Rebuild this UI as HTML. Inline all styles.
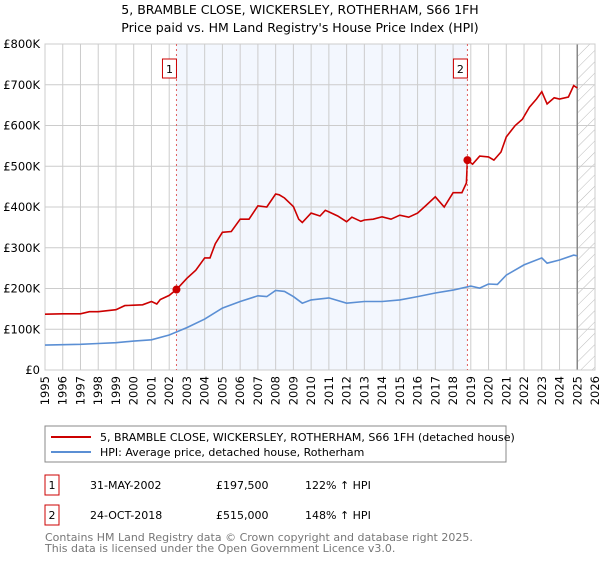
<!DOCTYPE html>
<html><head><meta charset="utf-8"><style>
body{margin:0;background:#fff;font-family:"DejaVu Sans","Liberation Sans",sans-serif;}
svg text{font-family:"DejaVu Sans","Liberation Sans",sans-serif;}
</style></head><body>
<svg id="c" width="600" height="560" viewBox="0 0 600 560">
<defs><pattern id="hatch" width="8" height="8" patternUnits="userSpaceOnUse" patternTransform="rotate(45)"><line x1="0" y1="0" x2="0" y2="8" stroke="#bbb" stroke-width="1"/></pattern></defs>
<text x="300" y="14" text-anchor="middle" font-size="12.5" fill="#000">5, BRAMBLE CLOSE, WICKERSLEY, ROTHERHAM, S66 1FH</text>
<text x="300" y="32" text-anchor="middle" font-size="12.5" fill="#000">Price paid vs. HM Land Registry's House Price Index (HPI)</text>
<g id="grid"></g><g id="marks"></g>
<rect x="45" y="426" width="461" height="36" fill="#fff" stroke="#888"/>
<line x1="51" y1="437" x2="91" y2="437" stroke="#cc0000" stroke-width="2"/>
<text x="100" y="441" font-size="11">5, BRAMBLE CLOSE, WICKERSLEY, ROTHERHAM, S66 1FH (detached house)</text>
<line x1="51" y1="452" x2="91" y2="452" stroke="#5b8fd4" stroke-width="2"/>
<text x="100" y="456" font-size="11">HPI: Average price, detached house, Rotherham</text>
<rect x="45" y="475" width="14" height="20" fill="#fff" stroke="#cc0000"/>
<text x="52" y="489" font-size="11" text-anchor="middle">1</text>
<text x="90" y="489" font-size="11">31-MAY-2002</text>
<text x="216" y="489" font-size="11">£197,500</text>
<text x="305" y="489" font-size="11">122% ↑ HPI</text>
<rect x="45" y="505" width="14" height="20" fill="#fff" stroke="#cc0000"/>
<text x="52" y="519" font-size="11" text-anchor="middle">2</text>
<text x="90" y="519" font-size="11">24-OCT-2018</text>
<text x="216" y="519" font-size="11">£515,000</text>
<text x="305" y="519" font-size="11">148% ↑ HPI</text>
<text x="45" y="541" font-size="11" fill="#777">Contains HM Land Registry data © Crown copyright and database right 2025.</text>
<text x="45" y="552" font-size="11" fill="#777">This data is licensed under the Open Government Licence v3.0.</text>
</svg>
<script>
const yearTicks=[1995,1996,1997,1998,1999,2000,2001,2002,2003,2004,2005,2006,2007,2008,2009,2010,2011,2012,2013,2014,2015,2016,2017,2018,2019,2020,2021,2022,2023,2024,2025,2026];
const priceTicks=[0,100000,200000,300000,400000,500000,600000,700000,800000];
const priceLabels=["£0","£100K","£200K","£300K","£400K","£500K","£600K","£700K","£800K"];
const redYears=[1995,1996,1997,1997.5,1998,1999,1999.5,2000,2000.5,2001,2001.3,2001.5,2002,2002.41,2003,2003.5,2004,2004.3,2004.6,2005,2005.5,2006,2006.5,2007,2007.5,2008,2008.2,2008.5,2009,2009.3,2009.5,2010,2010.5,2010.8,2011,2011.5,2012,2012.3,2012.8,2013,2013.5,2014,2014.5,2015,2015.5,2016,2016.5,2017,2017.5,2018,2018.5,2018.75,2018.81,2019.1,2019.5,2020,2020.3,2020.7,2021,2021.5,2021.9,2022.3,2022.7,2023,2023.3,2023.7,2024,2024.5,2024.8,2025];
const redValues=[137,138,138,143,143,148,158,159,160,168,162,173,183,197.5,225,245,275,275,310,338,340,370,370,403,400,432,430,422,401,370,362,385,378,392,388,378,364,375,365,368,370,376,370,380,375,385,405,425,400,435,435,459,515,505,525,523,515,535,572,600,615,645,665,683,653,668,665,670,698,692];
const blueYears=[1995,1996,1997,1998,1999,2000,2001,2002,2003,2004,2005,2006,2007,2007.5,2008,2008.5,2009,2009.5,2010,2011,2012,2013,2014,2015,2016,2017,2018,2019,2019.5,2020,2020.5,2021,2022,2023,2023.3,2024,2024.8,2025];
const blueValues=[61,62,63,65,67,71,74,86,104,125,152,168,182,180,195,193,180,164,172,177,164,168,168,172,180,189,196,206,201,211,210,233,258,275,262,270,282,280];
const sales=[[2002.41,197.5,"1"],[2018.81,515,"2"]];
const NS="http://www.w3.org/2000/svg";
const X=y=>45+(y-1995)*(550/31);
const Y=v=>370-v/800000*326;
const grid=document.getElementById('grid'),marks=document.getElementById('marks');
function mk(p,tag,a){const e=document.createElementNS(NS,tag);for(const k in a)e.setAttribute(k,a[k]);p.appendChild(e);return e;}
let r=mk(grid,'rect',{x:X(2002.41),y:44,width:X(2018.81)-X(2002.41),height:326,fill:'#eef3fd',opacity:0.7});


r=mk(grid,'rect',{x:X(2025),y:44,width:X(2026)-X(2025),height:326,fill:'url(#hatch)'});


yearTicks.forEach(t=>{mk(grid,'line',{x1:X(t),x2:X(t),y1:44,y2:370,stroke:'#ccc'});
const tx=mk(grid,'text',{x:X(t)+4,y:376,'font-size':11.5,'text-anchor':'end',transform:`rotate(-90 ${X(t)+4} 376)`});tx.textContent=t;

});
priceTicks.forEach((t,i)=>{mk(grid,'line',{x1:45,x2:595,y1:Y(t),y2:Y(t),stroke:'#ccc'});
const tx=mk(grid,'text',{x:40,y:Y(t)+4,'font-size':11.5,'text-anchor':'end'});tx.textContent=priceLabels[i];

});
mk(grid,'line',{x1:X(2025),x2:X(2025),y1:44,y2:370,stroke:'#888','stroke-width':1.5});
mk(grid,'rect',{x:45,y:44,width:550,height:326,fill:'none',stroke:'#ccc'});
function path(ys,vs,c,name){const d=ys.map((y,i)=>(i?'L':'M')+X(y).toFixed(1)+','+Y(vs[i]*1000).toFixed(1)).join('');
const p=mk(marks,'path',{d:d,fill:'none',stroke:c,'stroke-width':1.6});

}
path(blueYears,blueValues,'#5b8fd4','hpi-line');
path(redYears,redValues,'#cc0000','property-price-line');
sales.forEach(s=>{mk(marks,'line',{x1:X(s[0]),x2:X(s[0]),y1:44,y2:370,stroke:'#e06060','stroke-dasharray':'2,3'});
const c=mk(marks,'circle',{cx:X(s[0]),cy:Y(s[1]*1000),r:4,fill:'#cc0000'});


const b=mk(marks,'rect',{x:X(s[0])-14,y:59,width:14,height:19,fill:'#fff',stroke:'#cc0000'});


const t=mk(marks,'text',{x:X(s[0])-7,y:73,'font-size':11,'text-anchor':'middle'});t.textContent=s[2];});
</script>
</body></html>
